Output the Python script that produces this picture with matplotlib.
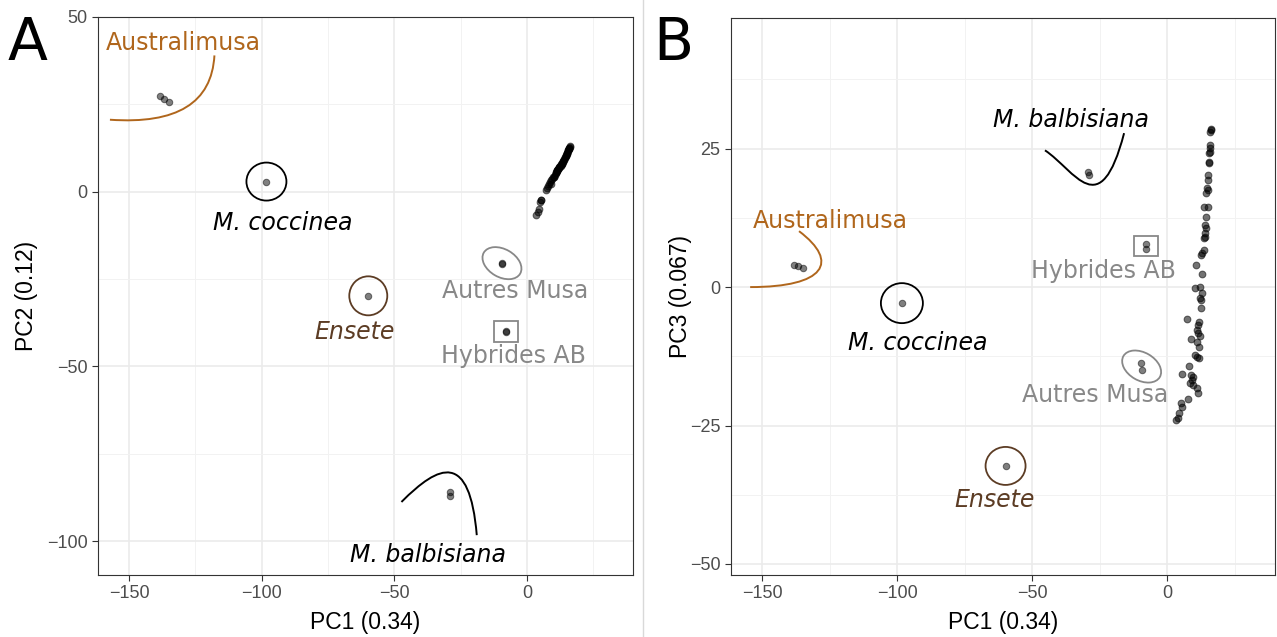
import numpy as np
import matplotlib.pyplot as plt
import matplotlib.transforms as mtransforms
from matplotlib.patches import Ellipse, Rectangle, PathPatch
from matplotlib.path import Path
from matplotlib.lines import Line2D
from matplotlib.ticker import MultipleLocator, AutoMinorLocator

plt.rcParams['font.family'] = ['Liberation Sans', 'DejaVu Sans']

# main cluster (cultivated AAA etc.)
main_pc1 = [16.2, 16.2, 15.9, 15.8, 15.8, 15.8, 15.6, 15.6, 15.6, 15.2,
            15.2, 14.8, 15.2, 14.6, 13.6, 15.2, 14.6, 14.2, 14.3, 14.0,
            14.0, 13.6, 13.6, 13.1, 12.7, 10.6, 13.1, 10.2, 12.1, 13.1,
            12.1, 12.7, 12.7, 7.3, 11.8, 11.4, 11.0, 11.4, 8.9, 12.3,
            11.0, 12.0, 10.2, 11.0, 11.8, 8.0, 5.5, 8.8, 9.2, 9.8,
            8.5, 9.5, 11.2, 11.5, 7.6, 5.4, 4.5, 4.0, 3.5, 5.0]
main_pc2 = [13.0, 12.8, 12.6, 12.4, 12.3, 12.2, 11.9, 11.8, 11.7, 11.1,
            11.0, 10.5, 11.0, 10.2, 8.7, 10.9, 10.1, 9.6, 9.8, 9.3,
            9.2, 8.6, 8.7, 7.9, 7.4, 4.8, 8.0, 4.3, 7.1, 8.1,
            7.0, 7.8, 7.7, 0.5, 6.6, 6.0, 5.5, 6.1, 2.2, 7.3,
            5.4, 6.9, 4.1, 5.4, 6.5, 1.6, -2.4, 2.8, 3.3, 4.2,
            2.3, 3.7, 5.8, 6.2, 1.2, -2.4, -4.9, -5.8, -6.6, -3.0]
main_pc3 = [28.3, 28.6, 28.0, 25.6, 25.1, 24.4, 24.2, 22.6, 22.4, 20.2,
            19.3, 17.9, 17.5, 17.0, 14.4, 14.4, 12.6, 11.2, 10.6, 9.7,
            9.0, 8.8, 6.7, 6.1, 5.8, 4.0, 2.3, -0.2, 0.0, -1.1,
            -2.0, -2.3, -3.8, -5.8, -6.3, -6.9, -7.8, -8.3, -9.4, -8.8,
            -9.9, -10.8, -12.3, -12.6, -12.8, -14.3, -15.7, -15.9, -16.8, -16.2,
            -17.3, -17.7, -18.2, -19.1, -20.2, -21.7, -22.8, -23.7, -24.0, -21.0]

# labelled groups
grp_name = ['Australimusa', 'Australimusa', 'Australimusa', 'coccinea', 'Ensete',
            'Autres', 'Autres', 'Hybrides', 'Hybrides', 'balbisiana', 'balbisiana']
grp_pc1 = [-138.3, -136.7, -134.8, -98.2, -59.8, -9.5, -9.3, -7.9, -7.7, -29.1, -29.0]
grp_pc2 = [27.5, 26.6, 25.8, 2.9, -29.8, -20.3, -20.6, -39.8, -40.1, -86.0, -87.2]
grp_pc3 = [3.9, 3.8, 3.5, -2.9, -32.3, -13.7, -15.0, 7.8, 6.9, 20.8, 20.2]

AUS = '#b0661c'
ENS = '#5c3c24'
GRY = '#888888'

fig = plt.figure(figsize=(12.77, 6.37), dpi=100)
axA = fig.add_axes([98 / 1277, 62 / 637, 535 / 1277, 558 / 637])
axB = fig.add_axes([731 / 1277, 62 / 637, 544 / 1277, 557 / 637])


def centre(xs, ys, name):
    idx = [i for i, g in enumerate(grp_name) if g == name]
    return np.mean([xs[i] for i in idx]), np.mean([ys[i] for i in idx])


def shape(ax, kind, name, xs, ys, w, h, color, angle=0):
    cx, cy = centre(xs, ys, name)
    tr = fig.dpi_scale_trans + mtransforms.ScaledTranslation(cx, cy, ax.transData)
    if kind == 'ellipse':
        p = Ellipse((0, 0), w / 100, h / 100, angle=angle, transform=tr,
                    fill=False, edgecolor=color, lw=1.3, zorder=4)
    else:
        p = Rectangle((-w / 200, -h / 200), w / 100, h / 100, transform=tr,
                      fill=False, edgecolor=color, lw=1.3, zorder=4)
    ax.add_patch(p)


def curve(ax, pts, color):
    codes = [Path.MOVETO] + [Path.CURVE4] * 3 if len(pts) == 4 else [Path.MOVETO, Path.CURVE3, Path.CURVE3]
    ax.add_patch(PathPatch(Path(pts, codes), fill=False, edgecolor=color, lw=1.4, zorder=4))


def style(ax, xlim, ylim, yticks, ylabel, ylab_x):
    ax.set_xlim(*xlim)
    ax.set_ylim(*ylim)
    ax.set_xticks([-150, -100, -50, 0])
    ax.set_yticks(yticks)
    ax.xaxis.set_minor_locator(MultipleLocator(25))
    ax.yaxis.set_minor_locator(AutoMinorLocator(2))
    ax.set_axisbelow(True)
    ax.grid(which='major', color='#ebebeb', lw=1.2)
    ax.grid(which='minor', color='#f2f2f2', lw=0.7)
    for s in ax.spines.values():
        s.set_color('#333333')
        s.set_linewidth(0.8)
    ax.tick_params(which='major', length=4, width=0.8, color='#333333',
                   labelcolor='#4d4d4d', labelsize=13)
    ax.tick_params(which='minor', length=0)
    ax.set_xlabel('PC1 (0.34)', fontsize=16.5, labelpad=6)
    ax.set_ylabel(ylabel, fontsize=16.5)
    ax.yaxis.set_label_coords(ylab_x, 0.5)


def label(ax, x, y, s, color='black', italic=False):
    ax.text(x, y, s, ha='center', va='center', fontsize=17, color=color,
            family='DejaVu Sans', style='italic' if italic else 'normal', zorder=5)


# ---- panel A: PC1 vs PC2
axA.scatter(main_pc1, main_pc2, s=24, c='black', alpha=0.55, linewidths=0.7, zorder=3)
axA.scatter(grp_pc1, grp_pc2, s=22, c='black', alpha=0.5, linewidths=0.7, zorder=3)
style(axA, (-161.7, 40), (-109.7, 50), [-100, -50, 0, 50], 'PC2 (0.12)', -0.112)

shape(axA, 'ellipse', 'coccinea', grp_pc1, grp_pc2, 40, 38, 'black')
shape(axA, 'ellipse', 'Ensete', grp_pc1, grp_pc2, 38, 39, ENS)
shape(axA, 'ellipse', 'Autres', grp_pc1, grp_pc2, 42, 28, GRY, angle=-30)
shape(axA, 'rect', 'Hybrides', grp_pc1, grp_pc2, 24, 21, GRY)
curve(axA, [(-157.2, 20.6), (-119.3, 18.6), (-117.8, 39.0)], AUS)
curve(axA, [(-47.3, -88.8), (-33.0, -77.9), (-21.6, -74.2), (-18.9, -98.3)], 'black')

label(axA, -129.5, 42.7, 'Australimusa', AUS)
label(axA, -92.0, -8.9, 'M. coccinea', italic=True)
label(axA, -64.8, -40.1, 'Ensete', ENS, italic=True)
label(axA, -4.5, -28.4, 'Autres Musa', GRY)
label(axA, -4.9, -47.0, 'Hybrides AB', GRY)
label(axA, -37.1, -104.0, 'M. balbisiana', italic=True)

# ---- panel B: PC1 vs PC3
axB.scatter(main_pc1, main_pc3, s=24, c='black', alpha=0.55, linewidths=0.7, zorder=3)
axB.scatter(grp_pc1, grp_pc3, s=22, c='black', alpha=0.5, linewidths=0.7, zorder=3)
style(axB, (-161.5, 40), (-52, 48.6), [-50, -25, 0, 25], 'PC3 (0.067)', -0.071)

shape(axB, 'ellipse', 'coccinea', grp_pc1, grp_pc3, 42, 40, 'black')
shape(axB, 'ellipse', 'Ensete', grp_pc1, grp_pc3, 40, 38, ENS)
shape(axB, 'ellipse', 'Autres', grp_pc1, grp_pc3, 42, 28, GRY, angle=-30)
shape(axB, 'rect', 'Hybrides', grp_pc1, grp_pc3, 24, 20, GRY)
curve(axB, [(-154.4, 0.0), (-126.7, 0.0), (-121.1, 4.5), (-136.3, 10.1)], AUS)
curve(axB, [(-45.2, 24.7), (-34.1, 21.1), (-24.8, 11.2), (-15.9, 27.8)], 'black')

label(axB, -124.8, 11.9, 'Australimusa', AUS)
label(axB, -92.2, -10.1, 'M. coccinea', italic=True)
label(axB, -63.7, -38.4, 'Ensete', ENS, italic=True)
label(axB, -26.7, -19.5, 'Autres Musa', GRY)
label(axB, -23.7, 2.9, 'Hybrides AB', GRY)
label(axB, -35.6, 30.1, 'M. balbisiana', italic=True)

fig.add_artist(Line2D([643 / 1277, 643 / 1277], [0, 1], color='#d9d9d9', lw=1))
fig.text(8 / 1277, 1 - 60 / 637, 'A', fontsize=42, family='DejaVu Sans', va='baseline')
fig.text(653 / 1277, 1 - 60 / 637, 'B', fontsize=42, family='DejaVu Sans', va='baseline')

fig.savefig('out.png', dpi=100)
